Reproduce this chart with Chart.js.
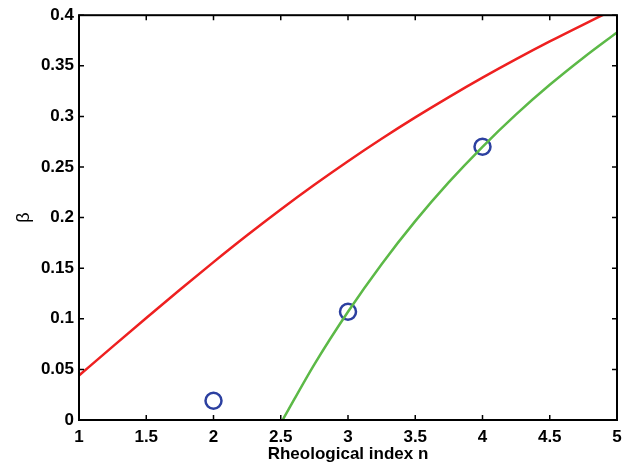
<!DOCTYPE html>
<html>
<head>
<meta charset="utf-8">
<script src="https://cdn.jsdelivr.net/npm/chart.js@4"></script>
<style>
html,body{margin:0;padding:0;background:#fff;}
#c{display:block;}
</style>
</head>
<body>
<canvas id="c" width="630" height="465"></canvas>
<script>
// ---- data ----
const redN    = [1.0, 1.25, 1.5, 1.75, 2.0, 2.25, 2.5, 2.75, 3.0, 3.25, 3.5, 3.75, 4.0, 4.25, 4.5, 4.75, 4.9];
const redBeta = [0.044, 0.0725, 0.1008, 0.1287, 0.1560, 0.1825, 0.2080, 0.2324, 0.2557, 0.2779, 0.2990, 0.3191, 0.3383, 0.3566, 0.3741, 0.3908, 0.4005];
const greenN    = [2.514, 2.75, 3.0, 3.25, 3.5, 3.75, 4.0, 4.25, 4.5, 4.75, 5.0];
const greenBeta = [0.0, 0.055, 0.107, 0.154, 0.1965, 0.235, 0.270, 0.302, 0.3312, 0.358, 0.383];
const markerN    = [2, 3, 4];
const markerBeta = [0.019, 0.107, 0.270];
const xTicks = [1, 1.5, 2, 2.5, 3, 3.5, 4, 4.5, 5];
const xTickLabels = ['1', '1.5', '2', '2.5', '3', '3.5', '4', '4.5', '5'];
const yTicks = [0, 0.05, 0.1, 0.15, 0.2, 0.25, 0.3, 0.35, 0.4];
const yTickLabels = ['0', '0.05', '0.1', '0.15', '0.2', '0.25', '0.3', '0.35', '0.4'];
const xTitle = 'Rheological index n';
const yTitle = 'β';

const toPts = (xs, ys) => xs.map((x, i) => ({x: x, y: ys[i]}));

const boxTicks = {
  id: 'boxTicks',
  afterDraw(chart) {
    const ctx = chart.ctx;
    const a = chart.chartArea;
    const xs = chart.scales.x, ys = chart.scales.y;
    const L = 5;
    ctx.save();
    ctx.strokeStyle = '#000';
    ctx.lineWidth = 1.5;
    ctx.beginPath();
    xTicks.forEach(v => {
      const px = xs.getPixelForValue(v);
      ctx.moveTo(px, a.bottom); ctx.lineTo(px, a.bottom - L);
      ctx.moveTo(px, a.top); ctx.lineTo(px, a.top + L);
    });
    yTicks.forEach(v => {
      const py = ys.getPixelForValue(v);
      ctx.moveTo(a.left, py); ctx.lineTo(a.left + L, py);
      ctx.moveTo(a.right, py); ctx.lineTo(a.right - L, py);
    });
    ctx.stroke();
    ctx.lineWidth = 2;
    ctx.strokeRect(a.left, a.top, a.right - a.left, a.bottom - a.top);
    ctx.restore();
  }
};

const tickFont = {family: '"Liberation Sans", Arial, sans-serif', size: 17, weight: 'bold'};

new Chart(document.getElementById('c'), {
  type: 'scatter',
  data: {
    datasets: [
      {
        data: toPts(redN, redBeta),
        showLine: true,
        borderColor: '#ee2020',
        borderWidth: 2.5,
        pointRadius: 0,
        cubicInterpolationMode: 'monotone',
        fill: false
      },
      {
        data: toPts(greenN, greenBeta),
        showLine: true,
        borderColor: '#5cb947',
        borderWidth: 2.5,
        pointRadius: 0,
        cubicInterpolationMode: 'monotone',
        fill: false
      },
      {
        data: toPts(markerN, markerBeta),
        showLine: false,
        pointStyle: 'circle',
        pointRadius: 8,
        pointBorderWidth: 2.5,
        pointBorderColor: '#2c40a0',
        pointBackgroundColor: 'rgba(0,0,0,0)'
      }
    ]
  },
  options: {
    responsive: false,
    animation: false,
    events: [],
    layout: {padding: {left: 0, right: 13, top: 15, bottom: 0}},
    plugins: {legend: {display: false}, tooltip: {enabled: false}},
    scales: {
      x: {
        type: 'linear',
        min: 1, max: 5,
        grid: {display: false, drawTicks: false},
        border: {display: false},
        afterBuildTicks: s => { s.ticks = xTicks.map(v => ({value: v})); },
        afterFit: s => { s.height = 45; },
        ticks: {
          color: '#000',
          font: tickFont,
          padding: 7,
          maxRotation: 0,
          autoSkip: false,
          callback: (v, i) => xTickLabels[i]
        },
        title: {
          display: true,
          text: xTitle,
          color: '#000',
          font: tickFont,
          padding: {top: 0, bottom: 0}
        }
      },
      y: {
        type: 'linear',
        min: 0, max: 0.4,
        grid: {display: false, drawTicks: false},
        border: {display: false},
        afterBuildTicks: s => { s.ticks = yTicks.map(v => ({value: v})); },
        afterFit: s => { s.width = 79; },
        ticks: {
          color: '#000',
          font: tickFont,
          padding: 5,
          autoSkip: false,
          callback: (v, i) => yTickLabels[i]
        },
        title: {
          display: true,
          text: yTitle,
          color: '#000',
          font: {family: '"Liberation Sans", Arial, sans-serif', size: 18, weight: 'normal'},
          padding: {top: 13, bottom: 0}
        }
      }
    }
  },
  plugins: [boxTicks]
});
</script>
</body>
</html>
